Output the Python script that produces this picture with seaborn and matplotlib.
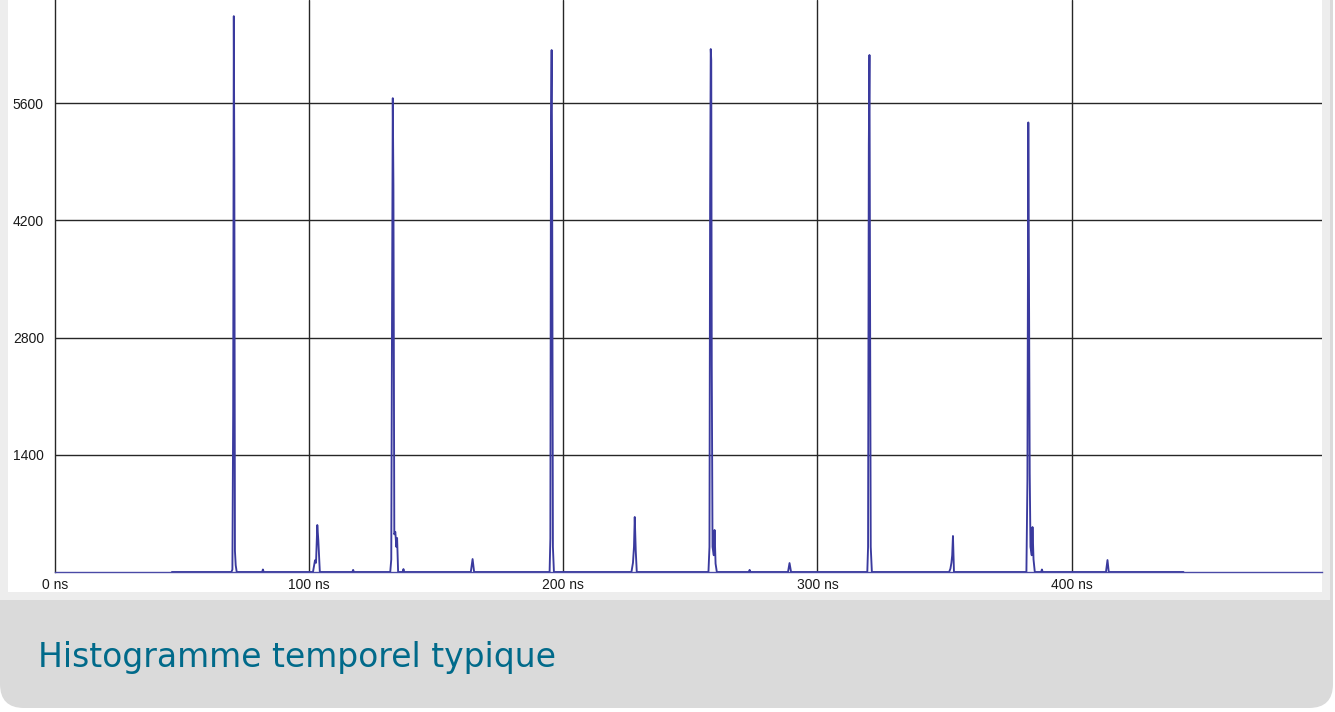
import matplotlib
matplotlib.use("Agg")
import matplotlib.pyplot as plt
from matplotlib.patches import FancyBboxPatch, Rectangle
from matplotlib.transforms import IdentityTransform
import seaborn as sns
import pandas as pd

# time histogram (ns, counts)
time_ns = [
    46.0, 81.5, 81.8, 82.1,
    # first laser pulse
    69.4, 69.8, 70.1, 70.35, 70.55, 70.8, 71.1, 71.5,
    # after-pulse
    101.5, 102.3, 102.7, 103.2, 103.6, 104.2,
    117.0, 117.3, 117.6,
    # second pulse
    131.9, 132.3, 132.6, 132.9, 133.15, 133.5, 133.9, 134.3, 134.6, 135.0,
    136.8, 137.1, 137.4,
    # small peak
    163.6, 164.3, 164.9,
    # third pulse
    194.6, 194.9, 195.15, 195.4, 195.6, 195.9, 196.3,
    # after-pulse
    226.8, 227.4, 227.8, 228.1, 228.5, 228.9,
    # fourth pulse
    257.1, 257.5, 257.75, 258.0, 258.2, 258.4, 258.7, 259.2, 259.5, 259.9, 260.4,
    273.0, 273.3, 273.6,
    # small peak
    288.4, 289.0, 289.6,
    # fifth pulse
    319.6, 319.9, 320.2, 320.45, 320.7, 320.95, 321.4,
    # after-pulse
    351.8, 352.3, 352.7, 353.0, 353.3, 353.7,
    # sixth pulse
    382.2, 382.6, 382.95, 383.2, 383.5, 383.8, 384.3, 384.6, 385.0, 385.5,
    388.0, 388.3, 388.6,
    # small peak
    413.5, 414.1, 414.6,
    444.0,
]
counts = [
    0, 0, 30, 0,
    0, 30, 1900, 6640, 4900, 250, 80, 0,
    0, 140, 110, 561, 380, 0,
    0, 25, 0,
    0, 150, 3000, 5660, 4620, 450, 480, 300, 406, 0,
    0, 35, 0,
    0, 155, 0,
    0, 400, 5420, 6235, 4700, 300, 0,
    0, 110, 300, 657, 250, 0,
    0, 300, 4360, 6247, 6115, 2470, 300, 200, 502, 100, 0,
    0, 25, 0,
    0, 107, 0,
    0, 300, 5100, 6176, 3070, 300, 0,
    0, 40, 110, 200, 430, 0,
    0, 1100, 5370, 3524, 1183, 300, 200, 537, 150, 0,
    0, 30, 0,
    0, 143, 0,
    0,
]

x_ticks = [0, 100, 200, 300, 400]
x_tick_labels = ["0 ns", "100 ns", "200 ns", "300 ns", "400 ns"]
y_ticks = [1400, 2800, 4200, 5600]
caption = "Histogramme temporel typique"

df = pd.DataFrame({"t": time_ns, "n": counts}).sort_values("t", kind="stable")

sns.set_style("white")
plt.rcParams["font.family"] = ["Liberation Sans", "DejaVu Sans"]

fig = plt.figure(figsize=(13.35, 7.12), dpi=100)
fig.patch.set_facecolor("white")

# card background (pixel coords, origin bottom-left), kept behind the axes
ident = IdentityTransform()
fig.add_artist(FancyBboxPatch((0, 4), 1333, 780, boxstyle="round,pad=0,rounding_size=24",
                              transform=ident, facecolor="#dadada", edgecolor="none", zorder=-3))
fig.add_artist(Rectangle((0, 112), 1330, 700, transform=ident,
                         facecolor="#ededed", edgecolor="none", zorder=-2))
fig.add_artist(Rectangle((8, 120), 1314, 700, transform=ident,
                         facecolor="white", edgecolor="none", zorder=-1))

ax = fig.add_axes([55 / 1335, 140 / 712, (1322 - 55) / 1335, 572 / 712])
ax.set_facecolor("white")

sns.lineplot(data=df, x="t", y="n", ax=ax, estimator=None, sort=False,
             color="#3a3a9e", linewidth=1.35, zorder=3)

ax.set_xlim(0, 498.5)
ax.set_ylim(0, 6833)
ax.set_xticks(x_ticks)
ax.set_xticklabels(x_tick_labels)
ax.set_yticks(y_ticks)
ax.set_yticklabels([str(v) for v in y_ticks])
ax.tick_params(axis="both", length=0, labelsize=10, colors="#1a1a1a")
ax.tick_params(axis="y", pad=8)
ax.tick_params(axis="x", pad=4)
ax.set_xlabel("")
ax.set_ylabel("")

for v in x_ticks[1:]:
    ax.axvline(v, color="#262626", linewidth=1.0, zorder=1)
for v in y_ticks:
    ax.axhline(v, color="#262626", linewidth=1.0, zorder=1)

for side in ["top", "right"]:
    ax.spines[side].set_visible(False)
ax.spines["left"].set_color("#262626")
ax.spines["left"].set_linewidth(1.0)
ax.spines["bottom"].set_color("#4a4aa6")
ax.spines["bottom"].set_linewidth(1.0)

fig.text(38 / 1335, 54 / 712, caption, fontsize=23.8, color="#006a8a",
         family=["DejaVu Sans"], ha="left", va="center")

fig.savefig("out.png", dpi=100)
